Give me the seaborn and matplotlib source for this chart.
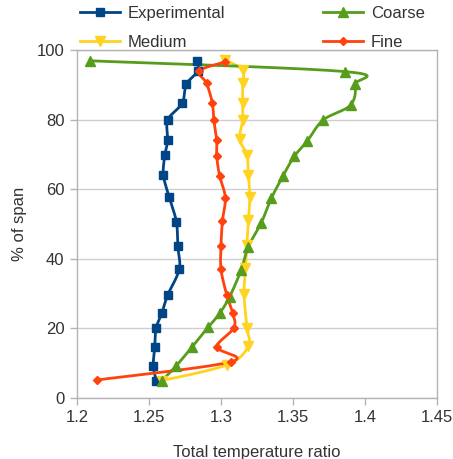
import numpy as np
import pandas as pd
import matplotlib
matplotlib.use("Agg")
import matplotlib.pyplot as plt
from matplotlib.lines import Line2D
import seaborn as sns

# Spanwise total temperature ratio profiles
exp_y = [96.9, 94.0, 90.2, 84.7, 79.9, 74.1, 69.7, 64.1, 57.7, 50.7, 43.7, 37.0, 29.6, 24.5, 20.2, 14.7, 9.3, 5.0]
exp_x = [1.283, 1.284, 1.276, 1.273, 1.263, 1.263, 1.261, 1.260, 1.264, 1.269, 1.270, 1.271, 1.263, 1.259, 1.255, 1.254, 1.253, 1.255]

coarse_y = [96.9, 93.8, 90.1, 84.2, 79.9, 73.9, 69.5, 63.8, 57.4, 50.4, 43.5, 36.8, 29.1, 24.3, 20.3, 14.7, 9.3, 5.0]
coarse_x = [1.209, 1.386, 1.393, 1.390, 1.371, 1.360, 1.351, 1.343, 1.335, 1.328, 1.319, 1.314, 1.306, 1.299, 1.291, 1.280, 1.269, 1.259]

medium_y = [97.1, 94.3, 90.4, 84.9, 79.9, 74.3, 69.8, 64.1, 57.8, 51.1, 44.0, 37.3, 29.8, 20.2, 14.9, 9.5, 5.0]
medium_x = [1.303, 1.315, 1.315, 1.315, 1.315, 1.313, 1.318, 1.319, 1.320, 1.319, 1.318, 1.317, 1.316, 1.318, 1.319, 1.304, 1.259]

fine_y = [96.6, 94.0, 90.4, 84.7, 79.9, 74.1, 69.6, 63.9, 57.6, 50.9, 43.8, 37.0, 29.6, 24.5, 20.2, 14.7, 10.4, 5.2]
fine_x = [1.303, 1.285, 1.290, 1.294, 1.295, 1.297, 1.297, 1.299, 1.303, 1.301, 1.300, 1.300, 1.304, 1.308, 1.309, 1.297, 1.307, 1.214]

x_ticks = [1.2, 1.25, 1.3, 1.35, 1.4, 1.45]
y_ticks = [0, 20, 40, 60, 80, 100]

series = [
    ("Experimental", exp_x, exp_y, "#004586", "s", 6.0),
    ("Medium", medium_x, medium_y, "#FFD320", "v", 6.5),
    ("Coarse", coarse_x, coarse_y, "#579D1C", "^", 6.5),
    ("Fine", fine_x, fine_y, "#FF420E", "D", 4.2),
]


def smooth(xs, ys, sx=1440.0, sy=3.48, n=20):
    """Catmull-Rom curve through the points, computed in display-like units."""
    p = np.column_stack([np.asarray(xs) * sx, np.asarray(ys) * sy])
    p = np.vstack([p[0], p, p[-1]])
    out = []
    for i in range(1, len(p) - 2):
        p0, p1, p2, p3 = p[i - 1], p[i], p[i + 1], p[i + 2]
        m1 = (p2 - p0) / 2.0
        m2 = (p3 - p1) / 2.0
        t = np.linspace(0, 1, n, endpoint=(i == len(p) - 3))[:, None]
        h00 = 2 * t**3 - 3 * t**2 + 1
        h10 = t**3 - 2 * t**2 + t
        h01 = -2 * t**3 + 3 * t**2
        h11 = t**3 - t**2
        out.append(h00 * p1 + h10 * m1 + h01 * p2 + h11 * m2)
    c = np.vstack(out)
    return c[:, 0] / sx, c[:, 1] / sy


plt.rcParams["font.family"] = ["Liberation Sans", "DejaVu Sans"]
fig = plt.figure(figsize=(4.53, 4.59), dpi=100)
ax = fig.add_axes([77 / 453, 1 - 398 / 459, 360 / 453, 348 / 459])

for name, xs, ys, color, marker, ms in series:
    cx, cy = smooth(xs, ys)
    sns.lineplot(x=cx, y=cy, sort=False, estimator=None, color=color,
                 linewidth=2.0, ax=ax, zorder=2)
    ax.plot(xs, ys, linestyle="none", marker=marker, markersize=ms,
            color=color, markeredgecolor=color, zorder=3)

ax.set_xlim(1.2, 1.45)
ax.set_ylim(0, 100)
ax.set_xticks(x_ticks)
ax.set_xticklabels([f"{v:g}" for v in x_ticks])
ax.set_yticks(y_ticks)
ax.grid(axis="y", color="#cfcfcf", linewidth=1.0, zorder=0)
ax.set_axisbelow(True)
for s in ax.spines.values():
    s.set_color("#b3b3b3")
    s.set_linewidth(1.0)
ax.tick_params(axis="both", colors="#b3b3b3", labelcolor="#333333",
               labelsize=12, length=5, width=1.0, pad=4)
ax.set_xlabel("Total temperature ratio", fontsize=12, color="#333333", labelpad=14)
ax.set_ylabel("% of span", fontsize=12, color="#333333", labelpad=7)

handles = [Line2D([], [], color=c, marker=m, markersize=ms, linewidth=2.0)
           for _, _, _, c, m, ms in series]
labels = [s[0] for s in series]
fig.legend(handles, labels, ncol=2, loc="upper left",
           bbox_to_anchor=(80 / 453, 1 - 6 / 459), frameon=False,
           fontsize=12, handlelength=2.4, handletextpad=0.45,
           columnspacing=5.9, labelspacing=0.85, borderpad=0, borderaxespad=0,
           labelcolor="#333333")

fig.savefig("out.png", dpi=100)
